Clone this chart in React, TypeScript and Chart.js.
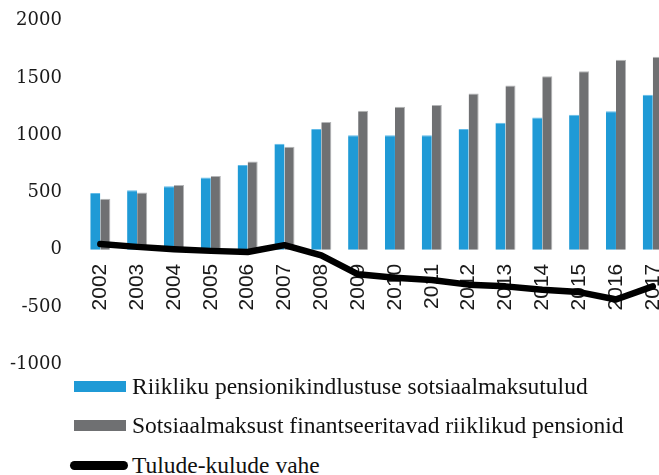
import React, { useEffect, useRef } from 'react';
import { Chart, registerables } from 'chart.js';

Chart.register(...registerables);

const years = ['2002', '2003', '2004', '2005', '2006', '2007', '2008', '2009', '2010', '2011', '2012', '2013', '2014', '2015', '2016', '2017'];
const revenue = [495, 520, 555, 630, 740, 925, 1055, 1000, 1000, 1000, 1055, 1110, 1155, 1180, 1210, 1355];
const pensions = [445, 500, 565, 645, 770, 900, 1115, 1215, 1250, 1265, 1365, 1435, 1515, 1560, 1660, 1685];
const balance = [50, 25, 5, -10, -20, 40, -50, -215, -245, -265, -305, -320, -350, -370, -435, -320];
const yMin = -1000;
const yMax = 2000;
const yStep = 500;
const seriesNames = [
  'Riikliku pensionikindlustuse sotsiaalmaksutulud',
  'Sotsiaalmaksust finantseeritavad riiklikud pensionid',
  'Tulude-kulude vahe',
];

const BLUE = '#1f9ad6';
const GRAY = '#6f7072';
const BLACK = '#000000';

export default function App() {
  const canvasRef = useRef<HTMLCanvasElement | null>(null);

  useEffect(() => {
    if (!canvasRef.current) return;
    const chart = new Chart(canvasRef.current, {
      type: 'bar',
      data: {
        labels: years,
        datasets: [
          {
            type: 'bar',
            label: seriesNames[0],
            data: revenue,
            backgroundColor: BLUE,
            borderColor: '#62bbe8',
            borderWidth: { top: 1, right: 0, left: 0, bottom: 0 },
            categoryPercentage: 0.545,
            barPercentage: 1.0,
            order: 1,
          },
          {
            type: 'bar',
            label: seriesNames[1],
            data: pensions,
            backgroundColor: GRAY,
            borderColor: '#b4b5b7',
            borderWidth: { top: 1, right: 1, left: 0, bottom: 0 },
            categoryPercentage: 0.545,
            barPercentage: 1.0,
            order: 1,
          },
          {
            type: 'line',
            label: seriesNames[2],
            data: balance,
            borderColor: BLACK,
            backgroundColor: BLACK,
            borderWidth: 6.5,
            pointRadius: 0,
            tension: 0,
            borderCapStyle: 'round',
            borderJoinStyle: 'round',
            fill: false,
            order: -1,
          } as any,
        ],
      },
      options: {
        animation: false,
        responsive: false,
        maintainAspectRatio: false,
        layout: { padding: { top: 8, left: 6, right: 0, bottom: 0 } },
        plugins: {
          legend: { display: false },
          tooltip: { enabled: false },
        },
        scales: {
          x: {
            position: { y: 0 } as any,
            grid: { display: false, drawTicks: false },
            border: { display: false },
            ticks: {
              autoSkip: false,
              minRotation: 90,
              maxRotation: 90,
              padding: 14,
              color: '#1a1a1a',
              font: { family: "'Liberation Sans', sans-serif", size: 21 },
            },
          },
          y: {
            min: yMin,
            max: yMax,
            grid: { display: false, drawTicks: false },
            border: { display: false },
            ticks: {
              stepSize: yStep,
              padding: 20,
              color: '#1a1a1a',
              font: { family: "'DejaVu Serif', serif", size: 18 },
              callback: (v: any) => String(v),
            },
          },
        },
      },
    });
    return () => chart.destroy();
  }, []);

  const rowStyle = (center: number): React.CSSProperties => ({
    position: 'absolute',
    left: 70,
    top: center - 16,
    height: 32,
    display: 'flex',
    alignItems: 'center',
    whiteSpace: 'nowrap',
    fontFamily: '"Liberation Serif", serif',
    fontSize: 23.5,
    color: '#111',
  });

  return (
    <div style={{ position: 'fixed', left: 0, top: 0, width: 659, height: 475, overflow: 'hidden', background: '#fff' }}>
      <canvas ref={canvasRef} width={708} height={405} style={{ position: 'absolute', left: -16, top: -10, width: 708, height: 405 }} />
      <div style={rowStyle(386)}>
        <span style={{ display: 'inline-block', width: 52, height: 11, background: BLUE, marginLeft: 4, marginRight: 6 }} />
        <span>{seriesNames[0]}</span>
      </div>
      <div style={rowStyle(425)}>
        <span style={{ display: 'inline-block', width: 52, height: 11, background: GRAY, marginLeft: 4, marginRight: 6 }} />
        <span>{seriesNames[1]}</span>
      </div>
      <div style={rowStyle(465)}>
        <span style={{ display: 'inline-block', width: 58, height: 9, background: BLACK, borderRadius: 5, marginLeft: 0, marginRight: 4 }} />
        <span>{seriesNames[2]}</span>
      </div>
    </div>
  );
}
